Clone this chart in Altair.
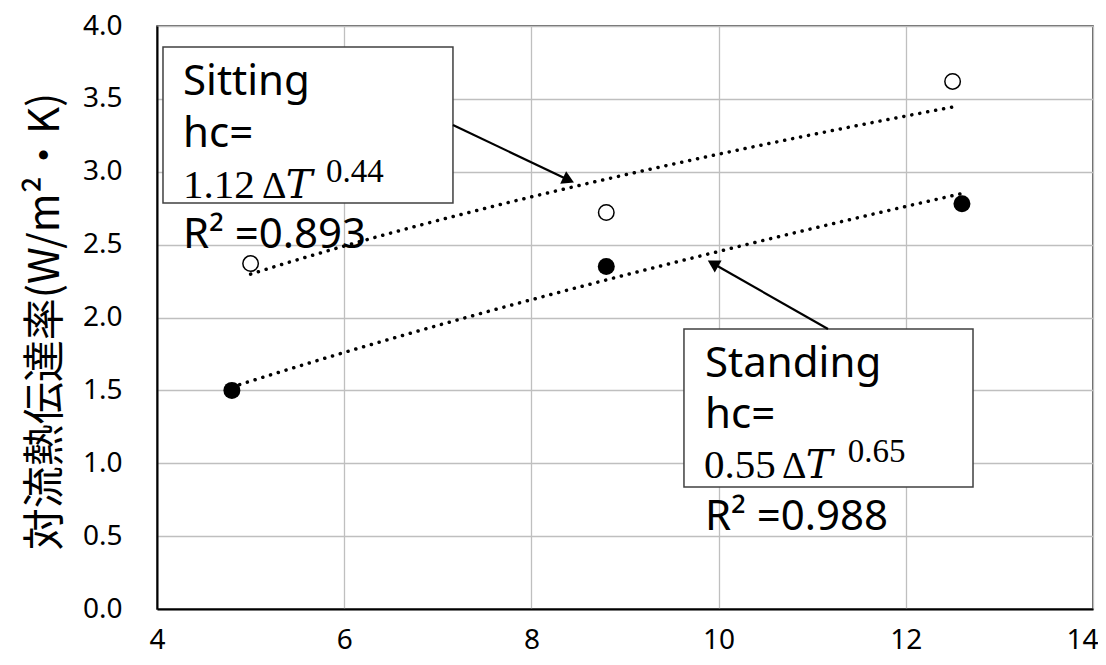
import altair as alt
import pandas as pd

# ---- data ----
dT_sitting = [5.0, 8.8, 12.5]
hc_sitting = [2.37, 2.72, 3.62]
dT_standing = [4.8, 8.8, 12.6]
hc_standing = [1.50, 2.35, 2.78]
x_ticks = [4, 6, 8, 10, 12, 14]
y_ticks = [0.0, 0.5, 1.0, 1.5, 2.0, 2.5, 3.0, 3.5, 4.0]
y_title = "対流熱伝達率(W/m²・K)"

sans_labels = ["Sitting", "hc=", "R² =0.893", "Standing", "hc=", "R² =0.988"]
coef_labels = ["1.12", "0.55"]
exp_labels = ["0.44", "0.65"]

points = pd.DataFrame({
    "dT": dT_sitting + dT_standing,
    "hc": hc_sitting + hc_standing,
    "posture": ["Sitting"] * len(dT_sitting) + ["Standing"] * len(dT_standing),
})

# ---- annotation placement (data coordinates) ----
boxes = pd.DataFrame({"dT": [4.064, 9.630], "dT2": [7.162, 12.718],
                      "hc": [3.856, 1.921], "hc2": [2.786, 0.837]})
sans_pos = pd.DataFrame({"dT": [4.278, 4.278, 4.278, 9.855, 9.855, 9.855],
                         "hc": [3.527, 3.170, 2.477, 1.592, 1.242, 0.542],
                         "label": sans_labels})
coef_pos = pd.DataFrame({"dT": [4.278, 9.845], "hc": [2.820, 0.897], "label": coef_labels})
delta_pos = pd.DataFrame({"dT": [5.122, 10.677], "hc": [2.820, 0.897], "label": ["Δ", "Δ"]})
t_pos = pd.DataFrame({"dT": [5.375, 10.930], "hc": [2.820, 0.897], "label": ["T", "T"]})
exp_pos = pd.DataFrame({"dT": [5.805, 11.380], "hc": [2.932, 1.011], "label": exp_labels})
arrows = pd.DataFrame({"dT": [7.162, 11.169], "hc": [3.321, 1.921],
                       "dT2": [8.397, 9.940], "hc2": [2.943, 2.370],
                       "ang": [25.4, 209.7]})

xscale = alt.Scale(domain=[4, 14], nice=False, zero=False)
yscale = alt.Scale(domain=[0, 4], nice=False, zero=False)

LABEL_SIZE = 28

xaxis = alt.Axis(values=x_ticks, format="d", title=None, labelFontSize=LABEL_SIZE,
                 labelAlign={"condition": {"test": "datum.value == 14", "value": "right"},
                             "value": "center"},
                 labelOffset={"condition": {"test": "datum.value == 14", "value": 5},
                              "value": 0})
yaxis = alt.Axis(values=y_ticks, format=".1f", title=y_title, labelFontSize=LABEL_SIZE)

X = alt.X("dT:Q", scale=xscale, axis=xaxis)
Y = alt.Y("hc:Q", scale=yscale, axis=yaxis)

base = alt.Chart(points)

trend = base.transform_regression(
    "dT", "hc", method="pow", groupby=["posture"]
).mark_line(color="#000000", strokeWidth=3.5, strokeDash=[0.1, 8], strokeCap="round").encode(
    x=X, y=Y, detail="posture:N")

sit_pts = base.transform_filter(alt.datum.posture == "Sitting").mark_point(
    shape="circle", filled=True, fill="#ffffff", stroke="#000000", strokeWidth=1.5,
    size=240, opacity=1).encode(x=X, y=Y)
std_pts = base.transform_filter(alt.datum.posture == "Standing").mark_point(
    shape="circle", filled=True, color="#000000", size=289, opacity=1).encode(x=X, y=Y)

box_layer = alt.Chart(boxes).mark_rect(fill="#ffffff", stroke="#404040", strokeWidth=1.5).encode(
    x=X, x2=alt.X2("dT2:Q"), y=Y, y2=alt.Y2("hc2:Q"))

arrow_lines = alt.Chart(arrows).mark_rule(color="#000000", strokeWidth=2.2).encode(
    x=X, x2=alt.X2("dT2:Q"), y=Y, y2=alt.Y2("hc2:Q"))
arrow_heads = alt.Chart(arrows).mark_point(shape="triangle-right", filled=True, color="#000000",
                                           size=190, opacity=1).encode(
    x=alt.X("dT2:Q", scale=xscale, axis=xaxis), y=alt.Y("hc2:Q", scale=yscale, axis=yaxis),
    angle=alt.Angle("ang:Q", scale=None))

sans_text = alt.Chart(sans_pos).mark_text(align="left", baseline="alphabetic", font="Noto Sans",
                                          fontSize=42, color="#000000").encode(
    x=X, y=Y, text="label:N")
coef_text = alt.Chart(coef_pos).mark_text(align="left", baseline="alphabetic",
                                          font="Liberation Serif", fontSize=41,
                                          color="#000000").encode(x=X, y=Y, text="label:N")
delta_text = alt.Chart(delta_pos).mark_text(align="left", baseline="alphabetic",
                                            font="Liberation Serif", fontSize=38,
                                            color="#000000").encode(x=X, y=Y, text="label:N")
t_text = alt.Chart(t_pos).mark_text(align="left", baseline="alphabetic",
                                    font="DejaVu Serif", fontSize=40, fontStyle="italic",
                                    color="#000000").encode(x=X, y=Y, text="label:N")
exp_text = alt.Chart(exp_pos).mark_text(align="left", baseline="alphabetic",
                                        font="Liberation Serif", fontSize=33,
                                        color="#000000").encode(x=X, y=Y, text="label:N")

chart = alt.layer(
    trend, sit_pts, std_pts, box_layer, arrow_lines, arrow_heads,
    sans_text, coef_text, delta_text, t_text, exp_text
).properties(
    width=936, height=583,
    autosize=alt.AutoSizeParams(type="none"),
    padding={"left": 149, "top": 18, "right": 5, "bottom": 48},
    background="#ffffff",
).configure_view(
    stroke="#333333", strokeWidth=1.5
).configure_axis(
    labelFont="Noto Sans", labelFontSize=LABEL_SIZE, labelColor="#000000",
    ticks=False, tickSize=0, domainColor="#000000", domainWidth=2,
    gridColor="#bfbfbf", gridWidth=1.3,
).configure_axisX(
    labelPadding=17,
).configure_axisY(
    labelPadding=35,
    titleFont="Noto Sans CJK JP", titleFontSize=42, titleFontWeight="normal",
    titleColor="#000000", titleAngle=270, titleX=-112, titleY=295,
    titleAlign="center", titleBaseline="middle",
)

chart.save("out.html", embed_options={"renderer": "svg", "actions": False})
